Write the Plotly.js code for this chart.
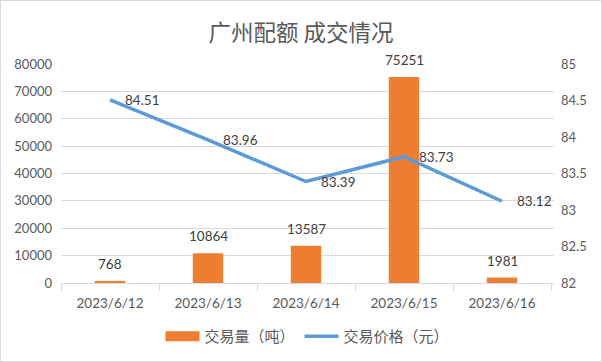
<!DOCTYPE html>
<html><head><meta charset="utf-8">
<script src="https://cdn.plot.ly/plotly-3.0.1.min.js"></script>
<style>html,body{margin:0;padding:0;background:#fff}#c{width:600px;height:360px;border:1px solid #d9d9d9}</style>
</head><body><div id="c"></div>
<script>
const categories = ["2023/6/12","2023/6/13","2023/6/14","2023/6/15","2023/6/16"];
const volume = [768, 10864, 13587, 75251, 1981];
const price = [84.51, 83.96, 83.39, 83.73, 83.12];
const seriesNames = ["交易量（吨）","交易价格（元）"];
const titleText = "广州配额 成交情况";
const leftTicks = [0,10000,20000,30000,40000,50000,60000,70000,80000];
const rightTicks = [82,82.5,83,83.5,84,84.5,85];

const numFont = "Lato, 'Noto Sans CJK SC', sans-serif";
const cjkFont = "'Noto Sans CJK SC', sans-serif";
const labelFont = {family:numFont,size:13.5,color:"#404040"};

const traces = [
  {type:"bar", x:categories, y:volume, name:seriesNames[0], marker:{color:"#ED7D31"}, hoverinfo:"none", showlegend:false},
  {type:"scatter", mode:"lines", x:[categories[0]], y:[null], yaxis:"y2", name:seriesNames[0],
   line:{color:"#ED7D31",width:10}, hoverinfo:"none"},
  {type:"scatter", mode:"lines", x:categories, y:price, yaxis:"y2", name:seriesNames[1],
   line:{color:"#5B9BD5",width:3.5}, hoverinfo:"none"}
];
const annotations = [];
categories.forEach((c,i)=>{
  annotations.push({x:c, y:volume[i], xref:"x", yref:"y", text:String(volume[i]), showarrow:false,
    xanchor:"center", yanchor:"bottom", yshift:7, font:labelFont});
  annotations.push({x:c, y:price[i], xref:"x", yref:"y2", text:price[i].toFixed(2), showarrow:false,
    xanchor:"left", yanchor:"middle", xshift:13, font:labelFont});
});
const layout = {
  width:600, height:360,
  margin:{l:60,r:47,t:63,b:78},
  paper_bgcolor:"#fff", plot_bgcolor:"#fff",
  title:{text:titleText, font:{family:cjkFont,size:22.5,color:"#595959"}, x:0.5, xanchor:"center", y:0.91, yanchor:"middle"},
  bargap:0.69,
  showlegend:true,
  annotations:annotations,
  legend:{orientation:"h", x:0.5, xanchor:"center", yref:"container", y:0.068, yanchor:"middle",
    font:{family:cjkFont,size:15,color:"#595959"}, traceorder:"normal", itemwidth:34},
  xaxis:{type:"category", tickson:"boundaries", ticks:"outside", ticklen:7, tickcolor:"#d9d9d9",
    showline:true, linecolor:"#d9d9d9", showgrid:false, automargin:false, ticklabelstandoff:8,
    tickfont:{family:numFont,size:13.5,color:"#595959"}},
  yaxis:{range:[0,80000], tickvals:leftTicks, ticktext:leftTicks.map(String), showgrid:true, gridcolor:"#d9d9d9",
    zeroline:false, automargin:false, tickfont:{family:numFont,size:13,color:"#595959"}, ticks:"", ticklabelstandoff:8},
  yaxis2:{range:[82,85], tickvals:rightTicks, ticktext:rightTicks.map(String), overlaying:"y", side:"right",
    showgrid:false, zeroline:false, automargin:false, tickfont:{family:numFont,size:13,color:"#595959"}, ticks:"", ticklabelstandoff:6}
};
Plotly.newPlot("c", traces, layout, {displayModeBar:false, staticPlot:true});
</script></body></html>
